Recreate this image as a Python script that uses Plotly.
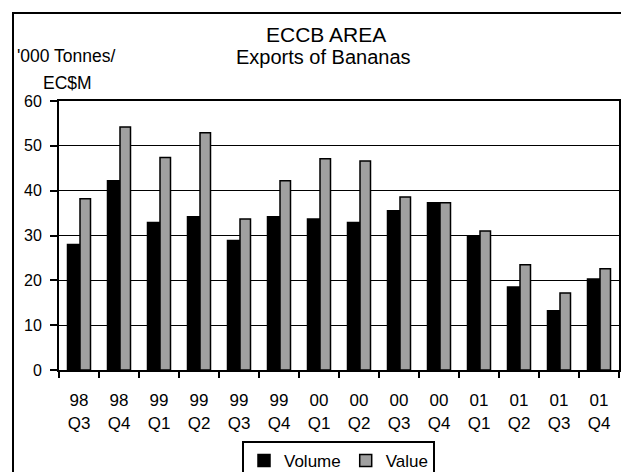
import plotly.graph_objects as go

categories = ["98 Q3", "98 Q4", "99 Q1", "99 Q2", "99 Q3", "99 Q4", "00 Q1",
              "00 Q2", "00 Q3", "00 Q4", "01 Q1", "01 Q2", "01 Q3", "01 Q4"]
tick_labels = ["98<br>Q3", "98<br>Q4", "99<br>Q1", "99<br>Q2", "99<br>Q3", "99<br>Q4",
               "00<br>Q1", "00<br>Q2", "00<br>Q3", "00<br>Q4", "01<br>Q1", "01<br>Q2",
               "01<br>Q3", "01<br>Q4"]
volume = [28.0, 42.2, 32.9, 34.2, 28.9, 34.2, 33.7, 32.9, 35.5, 37.3, 29.7, 18.5, 13.2, 20.3]
value = [38.2, 54.2, 47.4, 52.9, 33.7, 42.2, 47.1, 46.6, 38.6, 37.3, 31.0, 23.5, 17.2, 22.6]

FONT = "Liberation Sans, Arial, sans-serif"

fig = go.Figure()
fig.add_trace(go.Bar(
    x=categories, y=volume, name="Volume",
    marker=dict(color="#000000", line=dict(color="#000000", width=1.5)),
    offset=-0.2875, width=0.3125,
))
fig.add_trace(go.Bar(
    x=categories, y=value, name="Value",
    marker=dict(color="#a0a0a0", line=dict(color="#000000", width=1.5)),
    offset=0.025, width=0.2625,
))

fig.update_layout(
    width=621, height=472,
    margin=dict(l=59, r=2, t=101, b=102, autoexpand=False),
    paper_bgcolor="white", plot_bgcolor="white",
    barmode="overlay",
    font=dict(family=FONT, color="black"),
    showlegend=True,
    legend=dict(
        orientation="h", x=(242 - 59) / 560, xanchor="left",
        y=(370 - 441) / 269, yanchor="top",
        bordercolor="black", borderwidth=2, bgcolor="white",
        font=dict(size=17, family=FONT),
        itemwidth=30,
    ),
)

fig.update_xaxes(
    type="category", range=[-0.5, 13.5],
    tickmode="array", tickvals=categories, ticktext=tick_labels,
    tickson="boundaries", ticks="outside", ticklen=6, tickwidth=2, tickcolor="black",
    showline=True, linecolor="black", linewidth=2, mirror=True,
    showgrid=False, tickfont=dict(size=17, family=FONT),
    ticklabelstandoff=14,
)
fig.update_yaxes(
    range=[0, 60], tickmode="linear", tick0=0, dtick=10,
    ticks="outside", ticklen=7, tickwidth=2, tickcolor="black",
    showline=True, linecolor="black", linewidth=2, mirror=True,
    showgrid=True, gridcolor="black", gridwidth=1, zeroline=False,
    tickfont=dict(size=16, family=FONT), ticklabelstandoff=5,
)

# Outer chart frame
fig.add_shape(type="rect", xref="paper", yref="paper",
              x0=(13 - 59) / 560, x1=(630 - 59) / 560,
              y0=(370 - 480) / 269, y1=(370 - 13) / 269,
              line=dict(color="black", width=2), fillcolor="rgba(0,0,0,0)", layer="below")

# Titles
fig.add_annotation(text="ECCB AREA", xref="paper", yref="paper",
                   x=(326 - 59) / 560, y=(370 - 34) / 269, xanchor="center", yanchor="middle",
                   showarrow=False, font=dict(size=21, family=FONT))
fig.add_annotation(text="Exports of Bananas", xref="paper", yref="paper",
                   x=(323 - 59) / 560, y=(370 - 57) / 269, xanchor="center", yanchor="middle",
                   showarrow=False, font=dict(size=20, family=FONT))
fig.add_annotation(text="'000 Tonnes/", xref="paper", yref="paper",
                   x=(66 - 59) / 560, y=(370 - 56) / 269, xanchor="center", yanchor="middle",
                   showarrow=False, font=dict(size=17.5, family=FONT))
fig.add_annotation(text="EC$M", xref="paper", yref="paper",
                   x=(67 - 59) / 560, y=(370 - 83) / 269, xanchor="center", yanchor="middle",
                   showarrow=False, font=dict(size=17.5, family=FONT))

fig.write_html("out.html")
